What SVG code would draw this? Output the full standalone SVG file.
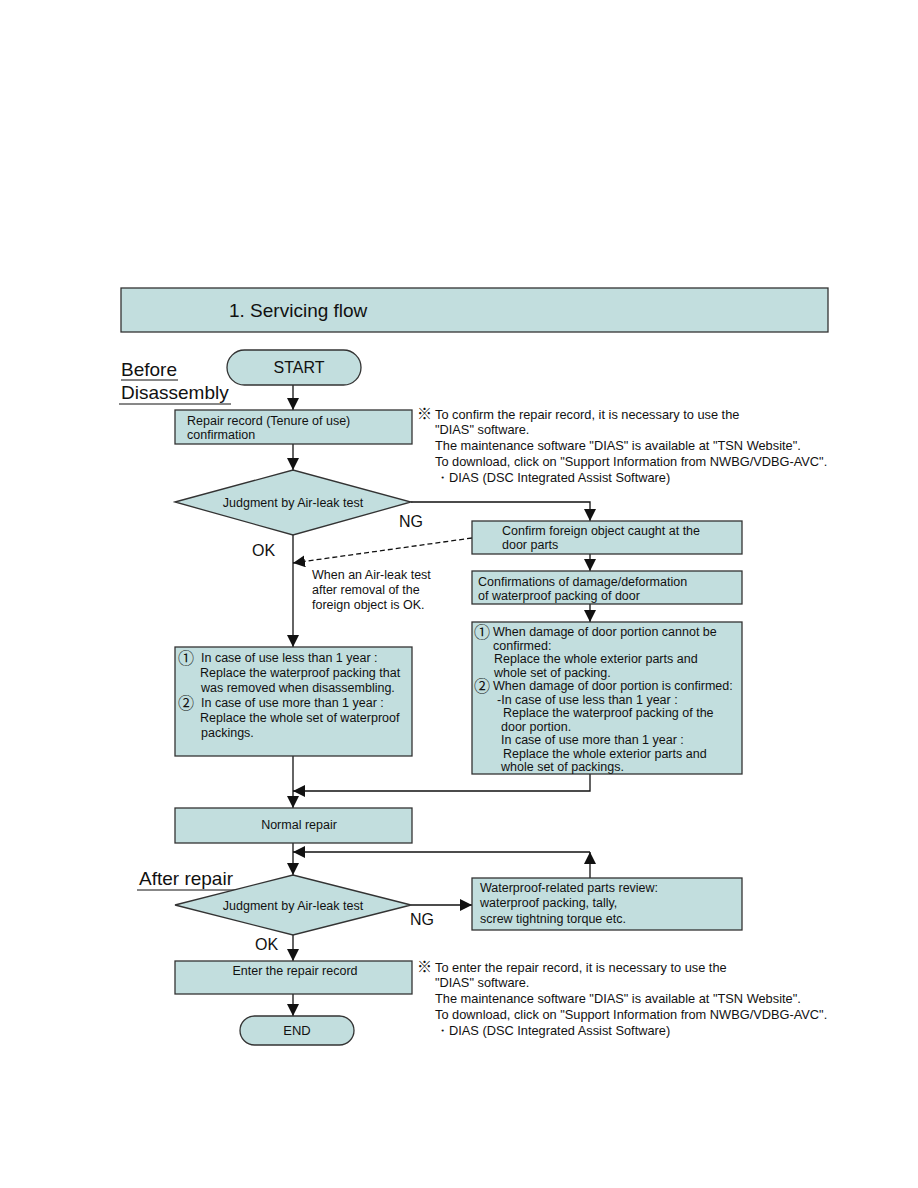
<svg xmlns="http://www.w3.org/2000/svg" width="918" height="1188" viewBox="0 0 918 1188">
<style>
.box{fill:#c2dede;stroke:#333;stroke-width:1.3}
.t{font-family:"Liberation Sans",Arial,sans-serif;font-size:12.5px;fill:#111}
.n{font-family:"Liberation Sans",Arial,sans-serif;font-size:12.8px;fill:#111}
.big{font-family:"Liberation Sans",Arial,sans-serif;font-size:19px;fill:#111}
.lbl{font-family:"Liberation Sans",Arial,sans-serif;font-size:16px;fill:#111}
.c{font-family:"Noto Sans CJK JP","DejaVu Sans",sans-serif;font-size:16px;fill:#111}
.ln{fill:none;stroke:#111;stroke-width:1.3}
.ul{stroke:#111;stroke-width:1}
</style>
<defs>
<marker id="ah2" viewBox="0 0 12 12" refX="12" refY="6" markerWidth="12" markerHeight="12" markerUnits="userSpaceOnUse" orient="auto">
<path d="M0,0 L12,6 L0,12 z" fill="#111"/>
</marker>
</defs>
<rect width="918" height="1188" fill="#fff"/>

<g id="title">
<rect x="121" y="288" width="707" height="44" class="box"/>
<text x="229" y="317" class="big">1. Servicing flow</text>
</g>

<g id="section-labels">
<text x="121" y="376" class="big">Before</text>
<line x1="121" y1="380" x2="178" y2="380" class="ul"/>
<text x="121" y="399" class="big">Disassembly</text>
<line x1="119" y1="404" x2="231" y2="404" class="ul"/>
<text x="139" y="885" class="big">After repair</text>
<line x1="137" y1="890" x2="238" y2="890" class="ul"/>
</g>

<g id="connectors">
<line x1="293" y1="385" x2="293" y2="410" class="ln" marker-end="url(#ah2)"/>
<line x1="293" y1="444" x2="293" y2="470" class="ln" marker-end="url(#ah2)"/>
<polyline points="411,502 590,502 590,521" class="ln" marker-end="url(#ah2)"/>
<line x1="590" y1="554" x2="590" y2="571" class="ln" marker-end="url(#ah2)"/>
<line x1="590" y1="604" x2="590" y2="622" class="ln" marker-end="url(#ah2)"/>
<line x1="472" y1="538" x2="293" y2="563" class="ln" stroke-dasharray="5,3" marker-end="url(#ah2)"/>
<line x1="293" y1="535" x2="293" y2="647" class="ln" marker-end="url(#ah2)"/>
<line x1="293" y1="756" x2="293" y2="808" class="ln" marker-end="url(#ah2)"/>
<polyline points="590,774 590,791 293,791" class="ln" marker-end="url(#ah2)"/>
<line x1="293" y1="843" x2="293" y2="875" class="ln" marker-end="url(#ah2)"/>
<line x1="590" y1="878" x2="590" y2="852" class="ln" marker-end="url(#ah2)"/>
<line x1="590" y1="852" x2="293" y2="852" class="ln" marker-end="url(#ah2)"/>
<line x1="411" y1="905" x2="472" y2="905" class="ln" marker-end="url(#ah2)"/>
<line x1="293" y1="935" x2="293" y2="961" class="ln" marker-end="url(#ah2)"/>
<line x1="293" y1="994" x2="293" y2="1016" class="ln" marker-end="url(#ah2)"/>
<text x="399" y="527" class="lbl">NG</text>
<text x="252" y="556" class="lbl">OK</text>
<text x="410" y="925" class="lbl">NG</text>
<text x="255" y="950" class="lbl">OK</text>
<text x="312" y="579" class="t">When an Air-leak test</text>
<text x="312" y="594" class="t">after removal of the</text>
<text x="312" y="609" class="t">foreign object is OK.</text>
</g>

<g id="start">
<rect x="227" y="350" width="134" height="35" rx="17.5" class="box"/>
<text x="299" y="373" class="lbl" text-anchor="middle">START</text>
</g>

<g id="repair-record">
<rect x="175" y="410" width="237" height="34" class="box"/>
<text x="187" y="425" class="t">Repair record (Tenure of use)</text>
<text x="187" y="439" class="t">confirmation</text>
</g>

<g id="note1">
<text x="417" y="419" class="c" style="font-size:15px">※</text>
<text x="435" y="419" class="n">To confirm the repair record, it is necessary to use the</text>
<text x="435" y="434" class="n">"DIAS" software.</text>
<text x="435" y="450" class="n">The maintenance software "DIAS" is available at "TSN Website".</text>
<text x="435" y="466" class="n">To download, click on "Support Information from NWBG/VDBG-AVC".</text>
<text x="436" y="482" class="n">・DIAS (DSC Integrated Assist Software)</text>
</g>

<g id="judge1">
<polygon points="175,502 293,470 411,502 293,535" class="box"/>
<text x="293" y="507" class="t" text-anchor="middle">Judgment by Air-leak test</text>
</g>

<g id="foreign-object">
<rect x="472" y="521" width="270" height="33" class="box"/>
<text x="502" y="535" class="t">Confirm foreign object caught at the</text>
<text x="502" y="549" class="t">door parts</text>
</g>

<g id="damage-confirm">
<rect x="472" y="571" width="270" height="33" class="box"/>
<text x="478" y="586" class="t">Confirmations of damage/deformation</text>
<text x="478" y="600" class="t">of waterproof packing of door</text>
</g>

<g id="door-replace">
<rect x="472" y="622" width="270" height="152" class="box"/>
<text x="474" y="638" class="c">①</text>
<text x="493" y="636" class="t">When damage of door portion cannot be</text>
<text x="493" y="650" class="t">confirmed:</text>
<text x="494" y="663" class="t">Replace the whole exterior parts and</text>
<text x="494" y="677" class="t">whole set of packing.</text>
<text x="474" y="692" class="c">②</text>
<text x="493" y="690" class="t">When damage of door portion is confirmed:</text>
<text x="497" y="704" class="t">-In case of use less than 1 year :</text>
<text x="503" y="717" class="t">Replace the waterproof packing of the</text>
<text x="501" y="731" class="t">door portion.</text>
<text x="501" y="744" class="t">In case of use more than 1 year :</text>
<text x="503" y="758" class="t">Replace the whole exterior parts and</text>
<text x="501" y="771" class="t">whole set of packings.</text>
</g>

<g id="packing-replace">
<rect x="175" y="647" width="237" height="109" class="box"/>
<text x="178" y="664" class="c">①</text>
<text x="201" y="662" class="t">In case of use less than 1 year :</text>
<text x="200" y="677" class="t">Replace the waterproof packing that</text>
<text x="201" y="692" class="t">was removed when disassembling.</text>
<text x="178" y="709" class="c">②</text>
<text x="201" y="707" class="t">In case of use more than 1 year :</text>
<text x="200" y="722" class="t">Replace the whole set of waterproof</text>
<text x="201" y="737" class="t">packings.</text>
</g>

<g id="normal-repair">
<rect x="175" y="808" width="237" height="35" class="box"/>
<text x="299" y="829" class="t" text-anchor="middle">Normal repair</text>
</g>

<g id="judge2">
<polygon points="175,905 293,875 411,905 293,935" class="box"/>
<text x="293" y="910" class="t" text-anchor="middle">Judgment by Air-leak test</text>
</g>

<g id="parts-review">
<rect x="472" y="878" width="270" height="52" class="box"/>
<text x="480" y="892" class="t">Waterproof-related parts review:</text>
<text x="480" y="907" class="t">waterproof packing, tally,</text>
<text x="480" y="923" class="t">screw tightning torque etc.</text>
</g>

<g id="enter-record">
<rect x="175" y="961" width="237" height="33" class="box"/>
<text x="295" y="975" class="t" text-anchor="middle">Enter the repair record</text>
</g>

<g id="end">
<rect x="240" y="1016" width="114" height="29" rx="14.5" class="box"/>
<text x="297" y="1035" class="t" text-anchor="middle" style="font-size:13px">END</text>
</g>

<g id="note2">
<text x="417" y="972" class="c" style="font-size:15px">※</text>
<text x="435" y="972" class="n">To enter the repair record, it is necessary to use the</text>
<text x="435" y="987" class="n">"DIAS" software.</text>
<text x="435" y="1003" class="n">The maintenance software "DIAS" is available at "TSN Website".</text>
<text x="435" y="1019" class="n">To download, click on "Support Information from NWBG/VDBG-AVC".</text>
<text x="436" y="1035" class="n">・DIAS (DSC Integrated Assist Software)</text>
</g>
</svg>
